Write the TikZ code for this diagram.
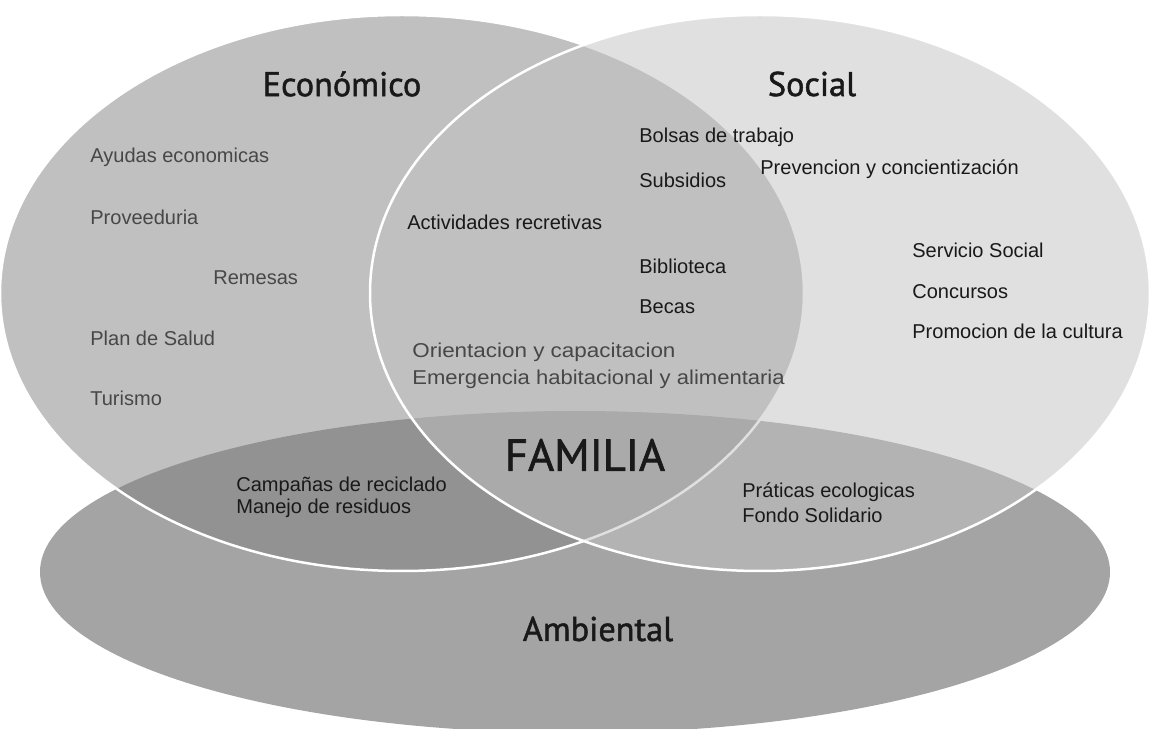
\documentclass[tikz,border=0pt]{standalone}
\usepackage{graphicx}
\usepackage{fontspec}
\setmainfont{Liberation Sans}
\newfontfamily\titlefont[FakeBold=1.4]{PT Sans}
\definecolor{ambfill}{gray}{0.643}
\definecolor{econfill}{gray}{0.51}
\definecolor{socfill}{gray}{0.76}
\tikzset{
  item/.style={font=\fontsize{11.4}{13}\selectfont, anchor=west, inner sep=0pt, text=black!90},
  lightitem/.style={item, text=black!72},
  title/.style={font=\titlefont\fontsize{19.5}{22}\selectfont, inner sep=0pt, text=black!90},
  set/.style={fill opacity=0.505, draw=white, line width=0.5mm}
}
\begin{document}
\begin{tikzpicture}[x=0.2mm, y=-0.2mm]
  \useasboundingbox (0,0) rectangle (1154,729);
  \clip (0,0) rectangle (1154,729);
  % circles
  \fill[ambfill] (575,572) ellipse [x radius=535, y radius=161];
  \draw[set, fill=econfill] (402,293) ellipse [x radius=402, y radius=278];
  \draw[set, fill=socfill] (760,293) ellipse [x radius=390, y radius=278];
  % titles
  \node[title] (econ) at (342,84) {Económico};
  \node[title] (social) at (812,84) {Social};
  \node[title] (amb) at (598,629) {Ambiental};
  \node[title, font=\titlefont\fontsize{25.5}{30}\selectfont] (familia) at (585,455) {FAMILIA};
  % economico
  \node[lightitem] (ayudas) at (90,157) {Ayudas economicas};
  \node[lightitem] (proveeduria) at (90,217) {Proveeduria};
  \node[lightitem] (remesas) at (213,278) {Remesas};
  \node[lightitem] (salud) at (90,338) {Plan de Salud};
  \node[lightitem] (turismo) at (90,398) {Turismo};
  % economico y social
  \node[item] (actividades) at (407,222) {Actividades recretivas};
  \node[item] (bolsas) at (639,137) {Bolsas de trabajo};
  \node[item] (subsidios) at (639,180) {Subsidios};
  \node[item] (biblioteca) at (639,266) {Biblioteca};
  \node[item] (becas) at (639,307) {Becas};
  \node[lightitem] (orientacion) at (412,352) {\scalebox{1.12}[1]{Orientacion y capacitacion}};
  \node[lightitem] (emergencia) at (412,379) {\scalebox{1.1}[1]{Emergencia habitacional y alimentaria}};
  % social
  \node[item] (prevencion) at (760,169) {Prevencion y concientización};
  \node[item] (servicio) at (912,250) {Servicio Social};
  \node[item] (concursos) at (912,292) {Concursos};
  \node[item] (promocion) at (912,331) {Promocion de la cultura};
  % ambiental
  \node[item] (campanas) at (236,486) {Campañas de reciclado};
  \node[item] (manejo) at (236,508) {Manejo de residuos};
  \node[item] (practicas) at (742,492) {Práticas ecologicas};
  \node[item] (fondo) at (742,515) {Fondo Solidario};
\end{tikzpicture}
\end{document}
